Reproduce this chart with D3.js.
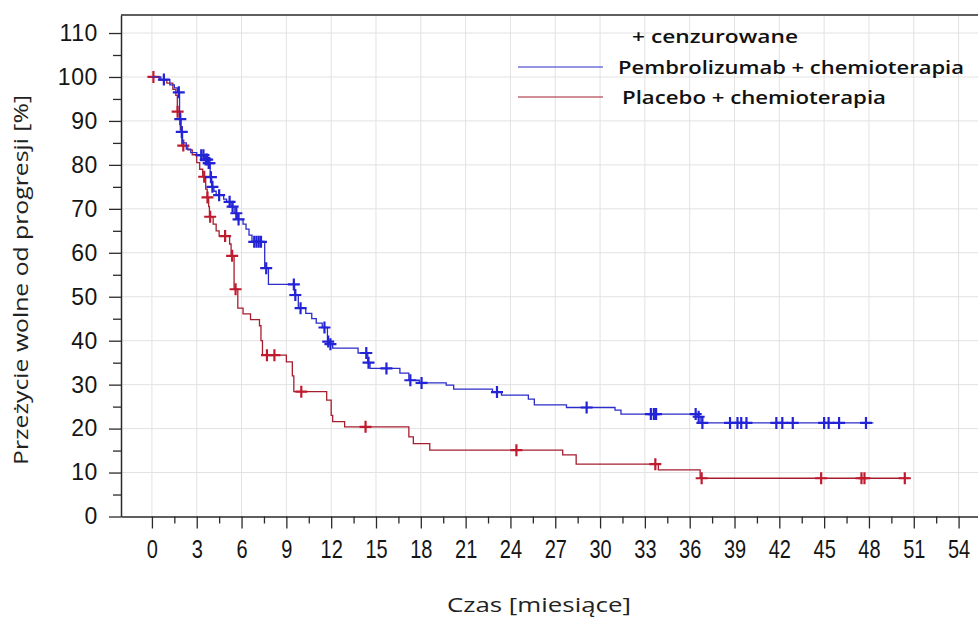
<!DOCTYPE html>
<html>
<head>
<meta charset="utf-8">
<script src="https://cdn.jsdelivr.net/npm/d3@7"></script>
<style>
  body { margin: 0; background: #fff; }
  svg { display: block; }
</style>
</head>
<body>
<script>
"use strict";

// krzywe Kaplana-Meiera: [czas, przezycie] po kazdym zdarzeniu
let pembroSteps = [
  [0, 100], [0.6, 99.4], [1.2, 98.2], [1.5, 97.5], [1.7, 96.5], [1.85, 90.4], [1.95, 87.5],
  [2.05, 85], [2.3, 83.6], [2.6, 82.8], [3.0, 82.2], [3.5, 81.2], [3.75, 80.4], [3.9, 77.2],
  [4.0, 75], [4.15, 74], [4.3, 73.1], [4.8, 72.2], [5.0, 71.6], [5.3, 70.5], [5.55, 69],
  [5.75, 67.6], [6.1, 66.5], [6.3, 65.4], [6.5, 64], [6.7, 62.5], [7.55, 56.5], [7.8, 52.8],
  [9.55, 50.4], [9.8, 47.4], [10.3, 46.2], [10.7, 45], [11.0, 44], [11.4, 43], [11.75, 39.8],
  [11.9, 39.2], [12.1, 38.3], [13.8, 37.2], [14.45, 35], [14.6, 33.7], [16.6, 32.6], [17.2, 31],
  [17.9, 30.4], [19.7, 29.9], [20.2, 29.0], [22.8, 28.3], [23.4, 27.6], [25.2, 26.7], [25.6, 25.4],
  [27.75, 24.8], [31.0, 24.2], [31.4, 23.3], [36.55, 22.7], [36.75, 21.3]
];
let pembroEnd = 48.3;
let pembroCensor = [
  0.8, 1.8, 1.9, 2.0, 3.3, 3.45, 3.6, 3.7, 3.8, 3.85, 3.95, 4.05, 4.5, 5.2, 5.4, 5.65, 5.8,
  6.85, 7.0, 7.15, 7.3, 7.65, 9.5, 9.6, 9.95, 11.55, 11.8, 11.95, 14.35, 14.5, 15.7, 17.3, 18.05,
  23.1, 29.1, 33.4, 33.6, 33.75, 36.4, 36.6, 36.85, 38.7, 39.2, 39.45, 39.8, 41.8, 42.2, 42.9,
  45.0, 45.3, 46.0, 47.8
];

let placeboSteps = [
  [0, 100], [0.5, 99.3], [1.0, 98.6], [1.4, 97.2], [1.6, 95.8], [1.7, 92.1], [1.9, 88],
  [2.0, 84.4], [2.4, 83.4], [2.7, 82.3], [3.0, 80.5], [3.2, 79], [3.4, 77.3], [3.6, 74.5],
  [3.7, 72.6], [3.8, 70.5], [3.85, 68.2], [4.1, 66.5], [4.3, 65], [4.5, 63.8], [5.2, 62],
  [5.3, 59.3], [5.5, 51.7], [5.75, 47.4], [6.1, 46.1], [6.6, 44.8], [7.2, 43.4], [7.3, 40],
  [7.4, 36.7], [9.0, 35.2], [9.4, 32], [9.5, 28.4], [11.7, 26.5], [12.0, 23], [12.1, 21.6],
  [12.9, 20.4], [17.2, 18.1], [17.5, 16.6], [18.6, 15.1], [27.5, 14.0], [28.4, 11.9],
  [33.9, 10.6], [36.7, 8.7]
];
let placeboEnd = 50.7;
let placeboCensor = [0.1, 1.72, 2.1, 3.5, 3.72, 3.9, 4.9, 5.37, 5.6, 7.7, 8.2, 10.0, 14.3, 24.4, 33.7, 36.8, 44.8, 47.5, 47.7, 50.4];

let xTicks = d3.range(0, 55, 3);
let xMinor = d3.range(1.5, 55, 3);
let yTicks = d3.range(0, 111, 10);
let yMinor = d3.range(5, 110, 10);

let legendLabels = ["+  cenzurowane", "Pembrolizumab + chemioterapia", "Placebo + chemioterapia"];
let colors = { pembro: "#2c2cc8", pembroMark: "#2222d6", placebo: "#a61e2e", placeboMark: "#c01a2e" };

let W = 978, H = 619;
let pLeft = 121, pRight = 978, pTop = 15, pBottom = 516.5;

let svg = d3.select("body").append("svg").attr("width", W).attr("height", H);

let x = d3.scaleLinear().domain([-2.07, 55.3]).range([pLeft, pRight]);
let y = d3.scaleLinear().domain([0, 114.1]).range([pBottom, pTop]);

// siatka
let grid = svg.append("g").attr("stroke", "#e2e2e2").attr("stroke-width", 1);
grid.selectAll(".gx").data(xTicks).enter().append("line")
  .attr("x1", d => x(d)).attr("x2", d => x(d)).attr("y1", pTop).attr("y2", pBottom);
grid.selectAll(".gy").data(yTicks.filter(d => d > 0)).enter().append("line")
  .attr("x1", pLeft).attr("x2", pRight).attr("y1", d => y(d)).attr("y2", d => y(d));

// ramka u gory
svg.append("line").attr("x1", pLeft).attr("x2", pRight).attr("y1", pTop).attr("y2", pTop)
  .attr("stroke", "#2a2a2a").attr("stroke-width", 1.5);

let tickFont = "'Liberation Sans', Arial, sans-serif";

let yAx = svg.append("g").attr("transform", `translate(${pLeft},0)`)
  .call(d3.axisLeft(y).tickValues(yTicks).tickSize(12).tickSizeOuter(0).tickPadding(11));
svg.append("g").attr("transform", `translate(${pLeft},0)`)
  .call(d3.axisLeft(y).tickValues(yMinor).tickSize(8).tickSizeOuter(0).tickFormat(""))
  .select(".domain").remove();

let xAx = svg.append("g").attr("transform", `translate(0,${pBottom})`)
  .call(d3.axisBottom(x).tickValues(xTicks).tickSize(12).tickSizeOuter(0).tickPadding(12));
svg.append("g").attr("transform", `translate(0,${pBottom})`)
  .call(d3.axisBottom(x).tickValues(xMinor).tickSize(7).tickSizeOuter(0).tickFormat(""))
  .select(".domain").remove();

svg.selectAll(".domain").attr("stroke", "#2a2a2a").attr("stroke-width", 1.5);
svg.selectAll(".tick line").attr("stroke", "#2a2a2a").attr("stroke-width", 1.3);
yAx.selectAll(".tick text").attr("font-family", tickFont).attr("font-size", 23)
  .attr("fill", "#151515").attr("letter-spacing", "0.6px");
xAx.selectAll(".tick text").attr("font-family", tickFont).attr("font-size", 25)
  .attr("fill", "#151515").attr("transform", "scale(0.8,1)");

// krzywe
let line = d3.line().x(d => x(d[0])).y(d => y(d[1])).curve(d3.curveStepAfter);

let survAt = (steps, t) => {
  let s = 100;
  steps.forEach(e => { if (e[0] <= t) s = e[1]; });
  return s;
};

let drawCurve = (steps, end, censor, col, markCol, size) => {
  let pts = steps.concat([[end, steps[steps.length - 1][1]]]);
  svg.append("path").datum(pts).attr("d", line)
    .attr("fill", "none").attr("stroke", col).attr("stroke-width", 1.3);
  let g = svg.append("g").attr("stroke", markCol).attr("stroke-width", 2.2);
  g.selectAll("path").data(censor).enter().append("path")
    .attr("d", t => {
      let cx = x(t), cy = y(survAt(steps, t));
      return `M${cx - size},${cy}H${cx + size}M${cx},${cy - size}V${cy + size}`;
    });
};

drawCurve(placeboSteps, placeboEnd, placeboCensor, colors.placebo, colors.placeboMark, 6);
drawCurve(pembroSteps, pembroEnd, pembroCensor, colors.pembro, colors.pembroMark, 6);

// opisy osi
let labelFont = "'Open Sans', 'Noto Sans', sans-serif";
svg.append("text").attr("x", 539).attr("y", 612).attr("text-anchor", "middle")
  .attr("font-family", labelFont).attr("font-size", 20).attr("fill", "#222")
  .attr("textLength", 184).attr("lengthAdjust", "spacingAndGlyphs")
  .text("Czas [miesiące]");
svg.append("text").attr("transform", "translate(28,280) rotate(-90)").attr("text-anchor", "middle")
  .attr("font-family", labelFont).attr("font-size", 20).attr("fill", "#222")
  .attr("textLength", 370).attr("lengthAdjust", "spacingAndGlyphs")
  .text("Przeżycie wolne od progresji [%]");

// legenda
let legFont = "'Open Sans', 'Noto Sans', sans-serif";
let leg = svg.append("g").attr("font-family", legFont).attr("font-size", 18)
  .attr("font-weight", 600).attr("fill", "#111");
leg.append("text").attr("x", 632).attr("y", 43).attr("textLength", 166)
  .attr("lengthAdjust", "spacingAndGlyphs").text(legendLabels[0]);
leg.append("line").attr("x1", 518).attr("x2", 603).attr("y1", 67).attr("y2", 67)
  .attr("stroke", colors.pembro).attr("stroke-width", 1.2);
leg.append("text").attr("x", 618).attr("y", 74).attr("textLength", 346)
  .attr("lengthAdjust", "spacingAndGlyphs").text(legendLabels[1]);
leg.append("line").attr("x1", 518).attr("x2", 603).attr("y1", 97).attr("y2", 97)
  .attr("stroke", colors.placebo).attr("stroke-width", 1.2);
leg.append("text").attr("x", 622).attr("y", 104).attr("textLength", 264)
  .attr("lengthAdjust", "spacingAndGlyphs").text(legendLabels[2]);
</script>
</body>
</html>
